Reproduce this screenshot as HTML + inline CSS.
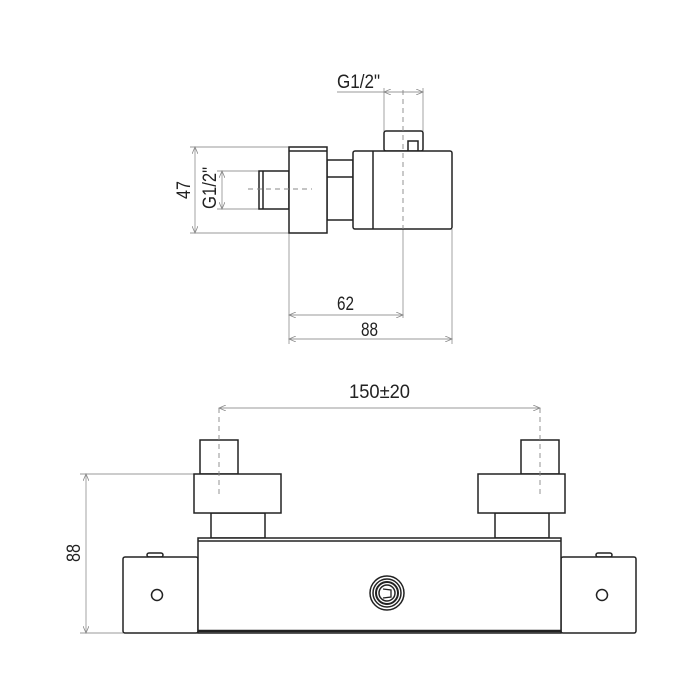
<!DOCTYPE html>
<html><head><style>
html,body{margin:0;padding:0;background:#fff;}
svg{display:block;}
text{font-family:"Liberation Sans Narrow","Liberation Sans",sans-serif;font-size:19px;fill:#222;}
</style></head><body>
<svg width="700" height="700" viewBox="0 0 700 700" xmlns="http://www.w3.org/2000/svg">
<defs>
<marker id="a" markerWidth="8" markerHeight="6" refX="7" refY="3" orient="auto-start-reverse" markerUnits="userSpaceOnUse">
<path d="M0,0 L7,3 L0,6" fill="none" stroke="#888" stroke-width="0.8"/></marker>
</defs>
<g fill="none" stroke="#999" stroke-width="0.9">
<line x1="190" y1="147" x2="289" y2="147"/>
<line x1="190" y1="233" x2="289" y2="233"/>
<line x1="195" y1="147" x2="195" y2="233" marker-start="url(#a)" marker-end="url(#a)"/>
<line x1="217" y1="171" x2="259" y2="171"/>
<line x1="217" y1="209" x2="259" y2="209"/>
<line x1="222" y1="171" x2="222" y2="209" marker-start="url(#a)" marker-end="url(#a)"/>
<line x1="384" y1="88" x2="384" y2="131"/>
<line x1="423" y1="88" x2="423" y2="131"/>
<line x1="337" y1="92" x2="384" y2="92"/>
<line x1="384" y1="92" x2="423" y2="92" marker-start="url(#a)" marker-end="url(#a)"/>
<line x1="289" y1="233" x2="289" y2="344"/>
<line x1="452" y1="229" x2="452" y2="344"/>
<line x1="403" y1="229" x2="403" y2="318"/>
<line x1="289" y1="315" x2="403" y2="315" marker-start="url(#a)" marker-end="url(#a)"/>
<line x1="289" y1="339" x2="452" y2="339" marker-start="url(#a)" marker-end="url(#a)"/>
<line x1="219" y1="408" x2="540" y2="408" marker-start="url(#a)" marker-end="url(#a)"/>
<line x1="80" y1="474" x2="194" y2="474"/>
<line x1="80" y1="633" x2="123" y2="633"/>
<line x1="86" y1="474" x2="86" y2="633" marker-start="url(#a)" marker-end="url(#a)"/>
</g>
<g fill="#fff" stroke="#222" stroke-width="1.5">
<rect x="259" y="171" width="30" height="38"/>
<line x1="263" y1="171" x2="263" y2="209"/>
<rect x="327" y="160" width="26" height="60"/>
<line x1="327" y1="177" x2="353" y2="177"/>
<rect x="289" y="147" width="38" height="86"/>
<line x1="289" y1="151" x2="327" y2="151"/>
<rect x="384" y="131" width="39" height="20" rx="2"/>
<rect x="408" y="141" width="10" height="10"/>
<rect x="353" y="151" width="99" height="78" rx="2"/>
<line x1="373" y1="151" x2="373" y2="229"/>
<rect x="200" y="440" width="38" height="34"/>
<rect x="521" y="440" width="38" height="34"/>
<rect x="211" y="513" width="54" height="25"/>
<rect x="495" y="513" width="54" height="25"/>
<rect x="194" y="474" width="87" height="39"/>
<rect x="478" y="474" width="87" height="39"/>
<rect x="147" y="553" width="16" height="4" rx="2"/>
<rect x="596" y="553" width="16" height="4" rx="2"/>
<rect x="123" y="557" width="75" height="76" rx="2"/>
<rect x="561" y="557" width="75" height="76" rx="2"/>
<rect x="198" y="538" width="363" height="95"/>
<line x1="198" y1="541" x2="561" y2="541"/>
<line x1="198" y1="631" x2="561" y2="631" stroke-width="2.5"/>
<circle cx="157" cy="595" r="5.5"/>
<circle cx="602" cy="595" r="5.5"/>
<circle cx="387" cy="593" r="17"/>
<circle cx="387" cy="593" r="14"/>
<circle cx="387" cy="593" r="11" stroke-width="2"/>
<circle cx="387" cy="593" r="8"/>
<path d="M383,589 L391,590 L391,597 L383,598" stroke-width="1.3"/>
</g>
<g fill="none" stroke="#888" stroke-width="0.9" stroke-dasharray="5,4">
<line x1="403" y1="90" x2="403" y2="229"/>
<line x1="248" y1="189" x2="312" y2="189"/>
<line x1="219" y1="408" x2="219" y2="495"/>
<line x1="540" y1="408" x2="540" y2="495"/>
</g>
<text x="337" y="88" textLength="43" lengthAdjust="spacingAndGlyphs">G1/2"</text>
<text x="337" y="310" textLength="17" lengthAdjust="spacingAndGlyphs">62</text>
<text x="361" y="336" textLength="17" lengthAdjust="spacingAndGlyphs">88</text>
<text x="349" y="398" textLength="61" lengthAdjust="spacingAndGlyphs">150±20</text>
<text transform="translate(190,190) rotate(-90)" x="-9" textLength="18" lengthAdjust="spacingAndGlyphs">47</text>
<text transform="translate(216,188) rotate(-90)" x="-21" textLength="42" lengthAdjust="spacingAndGlyphs">G1/2"</text>
<text transform="translate(80,553) rotate(-90)" x="-9" textLength="18" lengthAdjust="spacingAndGlyphs">88</text>
</svg>
</body></html>
